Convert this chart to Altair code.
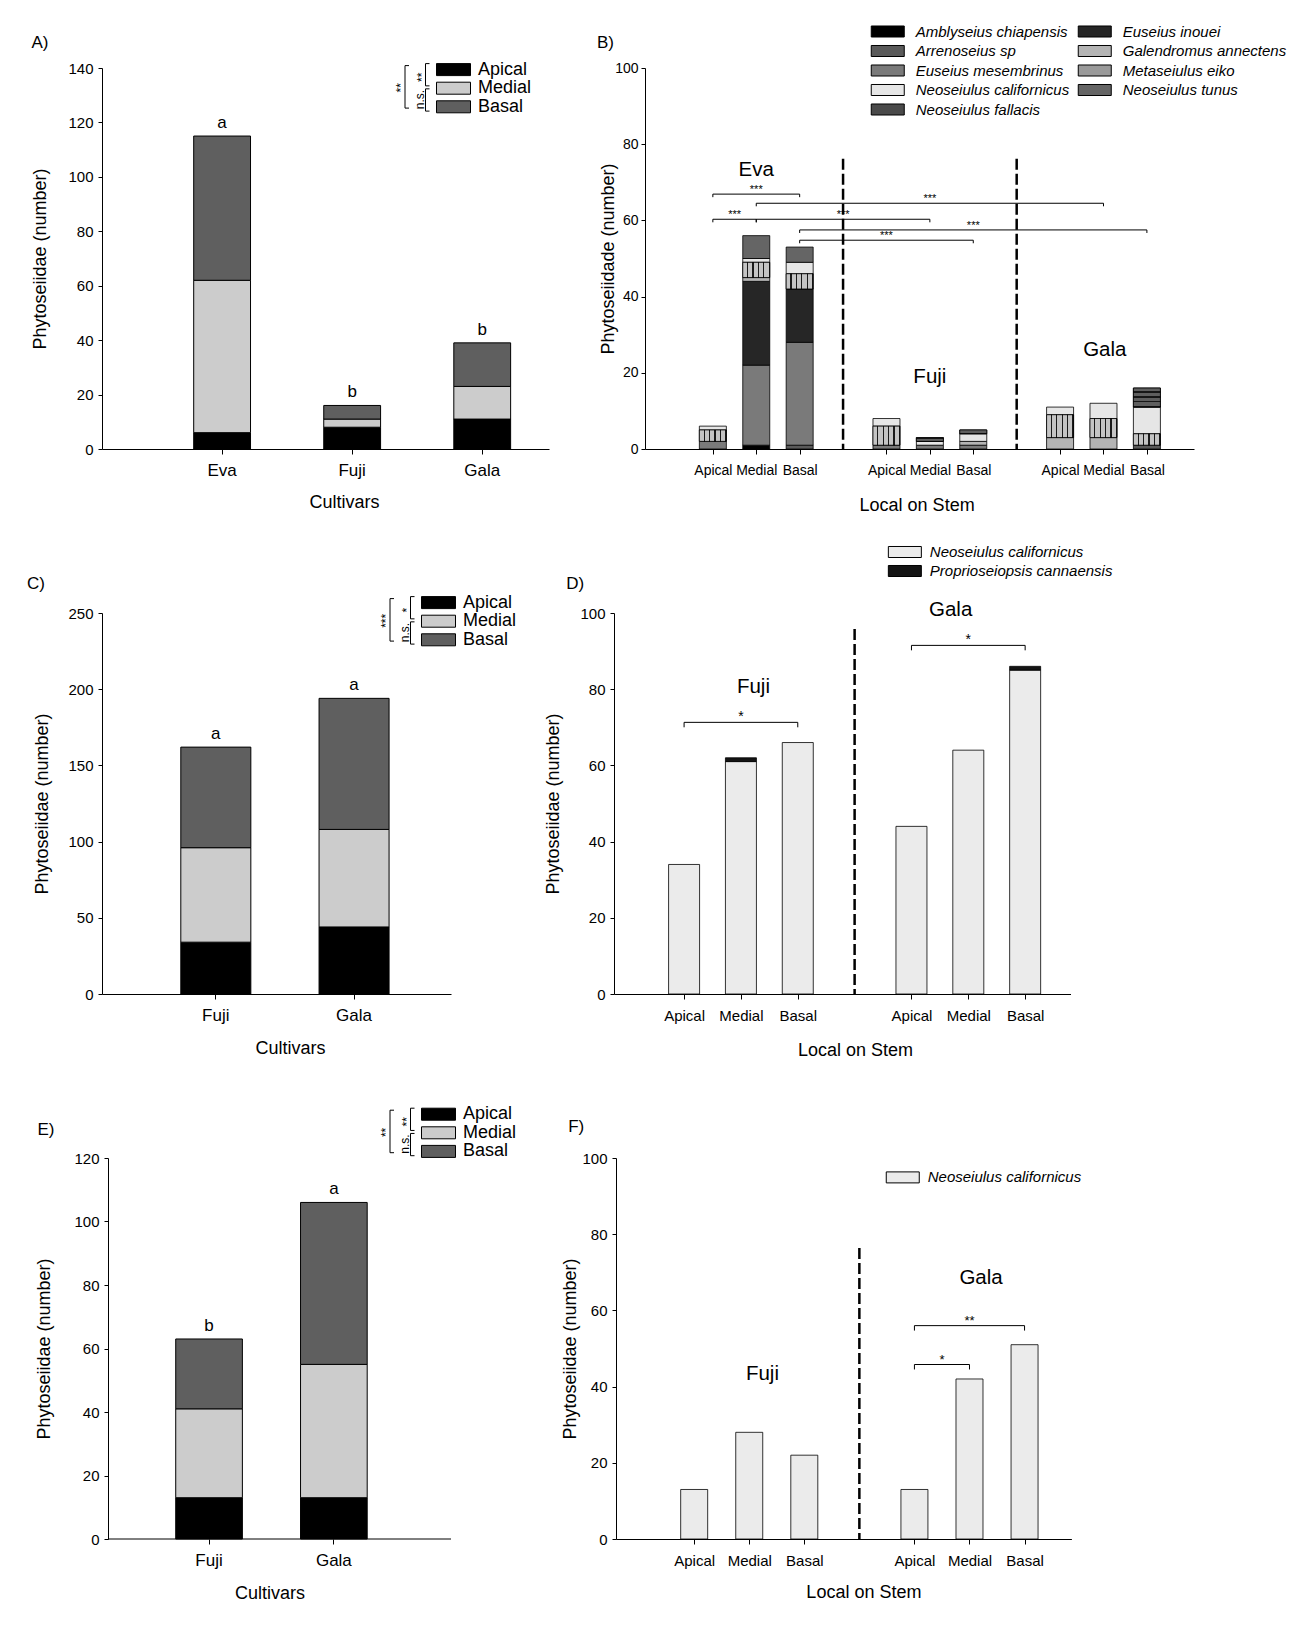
import json
import altair as alt
import pandas as pd

FONT = "Liberation Sans"
NB = "\u00a0"

# ------------------------------------------------------------------ data
positions = ["Apical", "Medial", "Basal"]
position_colors = ["#000000", "#cccccc", "#5f5f5f"]

# Panel A (all species, three cultivars)
cultivars_A = ["Eva", "Fuji", "Gala"]
A_apical = [6, 8, 11]
A_medial = [56, 3, 12]
A_basal = [53, 5, 16]
A_letters = ["a", "b", "b"]

# Panel C
cultivars_C = ["Fuji", "Gala"]
C_apical = [34, 44]
C_medial = [62, 64]
C_basal = [66, 86]
C_letters = ["a", "a"]

# Panel E
cultivars_E = ["Fuji", "Gala"]
E_apical = [13, 13]
E_medial = [28, 42]
E_basal = [22, 51]
E_letters = ["b", "a"]

# Panel B: species per cultivar x stem position
# value order: Eva A,M,B | Fuji A,M,B | Gala A,M,B
B_cultivars = ["Eva", "Fuji", "Gala"]
amblyseius_chiapensis = [0, 1, 0, 0, 0, 0, 0, 0, 0]
arrenoseius_sp = [0, 0, 1, 0, 0, 0, 0, 0, 1]
euseius_mesembrinus = [2, 21, 27, 1, 1, 1, 0, 0, 0]
euseius_inouei = [0, 22, 14, 0, 0, 0, 0, 0, 0]
galendromus_annectens = [0, 1, 0, 0, 0, 1, 3, 3, 0]
metaseiulus_eiko = [3, 4, 4, 5, 0, 0, 6, 5, 3]
neoseiulus_californicus_B = [1, 1, 3, 2, 1, 2, 2, 4, 7]
neoseiulus_fallacis = [0, 0, 0, 0, 1, 1, 0, 0, 5]
neoseiulus_tunus = [0, 6, 4, 0, 0, 0, 0, 0, 0]

species_B_stack = ["Amblyseius chiapensis", "Arrenoseius sp", "Euseius mesembrinus",
                   "Euseius inouei", "Galendromus annectens", "Metaseiulus eiko",
                   "Neoseiulus californicus", "Neoseiulus fallacis", "Neoseiulus tunus"]
species_B_values = [amblyseius_chiapensis, arrenoseius_sp, euseius_mesembrinus,
                    euseius_inouei, galendromus_annectens, metaseiulus_eiko,
                    neoseiulus_californicus_B, neoseiulus_fallacis, neoseiulus_tunus]
species_B_legend = ["Amblyseius chiapensis", "Arrenoseius sp", "Euseius mesembrinus",
                    "Neoseiulus californicus", "Neoseiulus fallacis", "Euseius inouei",
                    "Galendromus annectens", "Metaseiulus eiko", "Neoseiulus tunus"]
species_B_colors = ["#000000", "#5a5a5a", "#7a7a7a", "#e6e6e6", "#4a4a4a",
                    "#262626", "#b4b4b4", "#9a9a9a", "#656565"]

B_sig_from = [("Eva", "Apical"), ("Eva", "Apical"), ("Eva", "Medial"),
              ("Eva", "Medial"), ("Eva", "Basal"), ("Eva", "Basal")]
B_sig_to = [("Eva", "Basal"), ("Eva", "Medial"), ("Gala", "Medial"),
            ("Fuji", "Medial"), ("Gala", "Basal"), ("Fuji", "Basal")]
B_sig_level = [66.9, 60.3, 64.5, 60.3, 57.5, 54.8]
B_sig_text = ["***", "***", "***", "***", "***", "***"]
B_group_x = [2.0, 6.0, 10.03]
B_group_y = [73.2, 19.0, 26.0]
B_sep_top = 76.2

# Panel D
D_cultivars = ["Fuji", "Gala"]
species_D = ["Neoseiulus californicus", "Proprioseiopsis cannaensis"]
D_neoseiulus_californicus = [34, 61, 66, 44, 64, 85]
D_proprioseiopsis_cannaensis = [0, 1, 0, 0, 0, 1]
species_D_colors = ["#ebebeb", "#141414"]
D_sig_from = [("Fuji", "Apical"), ("Gala", "Apical")]
D_sig_to = [("Fuji", "Basal"), ("Gala", "Basal")]
D_sig_level = [71.3, 91.5]
D_sig_text = ["*", "*"]
D_group_x = [2.22, 5.69]
D_group_y = [80.7, 100.8]
D_sep_top = 95.8

# Panel F
F_cultivars = ["Fuji", "Gala"]
species_F = ["Neoseiulus californicus"]
F_neoseiulus_californicus = [13, 28, 22, 13, 42, 51]
species_F_colors = ["#ebebeb"]
F_sig_from = [("Gala", "Apical"), ("Gala", "Apical")]
F_sig_to = [("Gala", "Basal"), ("Gala", "Medial")]
F_sig_level = [56.0, 45.8]
F_sig_text = ["**", "*"]
F_group_x = [2.24, 6.21]
F_group_y = [43.3, 68.6]
F_sep_top = 76.4

# ------------------------------------------------------------------ helpers
ONE = pd.DataFrame({"k": [0]})


def rect_path(ratio):
    # wide rectangle, half width 2 in symbol units
    return f"M-2,-{ratio}H2V{ratio}H-2Z"


def stripes(light, dark, n, frac, vertical):
    stops = []
    for i in range(n):
        a, b, c = i / n, (i + frac) / n, (i + 1) / n
        stops += [alt.GradientStop(color=light, offset=a), alt.GradientStop(color=light, offset=b),
                  alt.GradientStop(color=dark, offset=b), alt.GradientStop(color=dark, offset=c)]
    if vertical:
        return alt.LinearGradient(gradient="linear", stops=stops, x1=0, x2=1, y1=0, y2=0)
    return alt.LinearGradient(gradient="linear", stops=stops, x1=0, x2=0, y1=0, y2=1)


B_textures = {
    "Metaseiulus eiko": stripes("#c4c4c4", "#1a1a1a", 5, 0.78, True),
    "Neoseiulus fallacis": stripes("#5e5e5e", "#161616", 4, 0.7, False),
}


def px_rule(x1, y1, x2, y2, color="black", width=1):
    return alt.Chart(ONE).mark_rule(color=color, strokeWidth=width).encode(
        x=alt.value(x1), x2=alt.value(x2), y=alt.value(y1), y2=alt.value(y2))


def px_text(txt, x, y, size, angle=0, align="center", baseline="middle"):
    return alt.Chart(ONE).mark_text(text=txt, fontSize=size, angle=angle, align=align,
                                    baseline=baseline, font=FONT, color="black").encode(
        x=alt.value(x), y=alt.value(y))


def anchors(w, h, pads):
    lp, tp, rp, bp = pads
    return [px_rule(-lp, -tp, -lp + 0.5, -tp, color="white"),
            px_rule(w + rp - 0.5, h + bp, w + rp, h + bp, color="white")]


def sq_bracket(x, y1, y2, arm=4):
    return [px_rule(x, y1, x, y2), px_rule(x, y1, x + arm, y1), px_rule(x, y2, x + arm, y2)]


def legend_brackets(L, r1, rs, outer, inner_top, inner_bottom):
    r2, r3 = r1 + rs, r1 + 2 * rs
    xo, xi = L - 31, L - 10.5
    layers = []
    layers += sq_bracket(xo, r1 - 3, r3 + 1)
    layers += sq_bracket(xi, r1 - 5, r2 - 2)
    layers += sq_bracket(xi, r2 + 1, r3 + 4)
    layers.append(px_text(outer, xo - 4, (r1 + r3) / 2, 12, angle=270))
    layers.append(px_text(inner_top, xi - 4, (r1 + r2) / 2 - 1, 12, angle=270))
    layers.append(px_text(inner_bottom, xi - 6, (r2 + r3) / 2 + 2, 12, angle=270))
    return layers


def left_axis(title, title_x, h, values, label_size=15, label_pad=5, offset=0):
    return alt.Axis(title=title, values=values, titleX=title_x, titleY=h / 2, titleAngle=270,
                    titleAlign="center", titleBaseline="middle", titleFontSize=18,
                    labelFontSize=label_size, tickSize=4, labelPadding=label_pad, grid=False,
                    offset=offset)


def stacked_panel(cultivars, series, letters, ymax, ystep, w, h, scale_kw, L, r1, rs,
                  sig_labels, panel_letter, letter_xy, ytitle_x, xtitle_x, xtitle_y, pads,
                  y_shift=0):
    rows = []
    for r, (pos, vals) in enumerate(zip(positions, series)):
        for c, v in zip(cultivars, vals):
            rows.append({"cultivar": c, "position": pos, "count": v, "rank": r})
    df = pd.DataFrame(rows)
    tot = pd.DataFrame({"cultivar": cultivars,
                        "total": [sum(v) for v in zip(*series)],
                        "letter": letters})
    xs = alt.Scale(domain=cultivars, **scale_kw)
    ys = alt.Scale(domain=[0, ymax], nice=False)
    xaxis = alt.Axis(title="Cultivars", labelAngle=0, labelFontSize=17, labelBaseline="middle",
                     labelPadding=16, tickSize=5, titleFontSize=18, titleX=xtitle_x,
                     titleY=xtitle_y, titleBaseline="middle", labelOverlap=False, grid=False,
                     domain=(y_shift == 0))
    X = alt.X("cultivar:N", scale=xs, sort=cultivars, axis=xaxis)
    yaxis = left_axis("Phytoseiidae (number)", ytitle_x, h, list(range(0, ymax + 1, ystep)),
                      offset=-y_shift)
    legend = alt.Legend(title=None, orient="none", legendX=L, legendY=r1 - 8,
                        symbolType=rect_path(0.706), symbolSize=17 * 17, symbolOffset=8.5,
                        symbolStrokeColor="black", symbolStrokeWidth=1,
                        labelFontSize=18, labelOffset=15.5, rowPadding=0.6, padding=0)
    bars = alt.Chart(df).mark_bar(stroke="black", strokeWidth=1).encode(
        x=X,
        y=alt.Y("count:Q", stack="zero", scale=ys, axis=yaxis),
        color=alt.Color("position:N", scale=alt.Scale(domain=positions, range=position_colors),
                        legend=legend),
        order=alt.Order("rank:Q", sort="ascending"),
    )
    letters_layer = alt.Chart(tot).mark_text(fontSize=17, baseline="alphabetic", dy=-8,
                                             color="black").encode(
        x=X, y=alt.Y("total:Q", scale=ys), text="letter:N")
    layers = [bars, letters_layer]
    if y_shift:
        # x baseline starts at the (shifted) y axis
        layers.append(px_rule(y_shift, h, w, h))
    layers += legend_brackets(L, r1, rs, *sig_labels)
    layers.append(px_text(panel_letter, letter_xy[0], letter_xy[1], 17, align="left"))
    layers += anchors(w, h, pads)
    return alt.layer(*layers).properties(width=w, height=h)


def slot_of(cultivars, cult, pos):
    return cultivars.index(cult) * 4 + positions.index(pos) + 1


def species_panel(cultivars, species, values, colors, legend_order, w, h, domain, bar_w,
                  legend_kw, sig_from, sig_to, sig_level, sig_text, star_size, drop,
                  group_x, group_y, sep_top, panel_letter, letter_xy, ytitle, ytitle_x,
                  xtitle_x, xtitle_y, stack_order, pads, textures=None, ylab=(15, 5),
                  xlab_size=15, spread=0, label_offset=16):
    rows = []
    for s, vals in zip(species, values):
        for i, v in enumerate(vals):
            g, p = divmod(i, 3)
            if v > 0:
                rows.append({"species": s, "slot": g * 4 + p + 1, "count": v,
                             "rank": stack_order.index(s)})
    df = pd.DataFrame(rows)
    nslots = len(cultivars) * 4 - 1
    labels = [""] * (nslots + 2)
    ticks = []
    for g in range(len(cultivars)):
        for p, pos in enumerate(positions):
            txt = pos
            if spread and p == 0:
                txt = pos + NB * spread
            elif spread and p == 2:
                txt = NB * spread + pos
            labels[g * 4 + p + 1] = txt
            ticks.append(g * 4 + p + 1)
    xs = alt.Scale(domain=domain, nice=False, zero=False)
    ys = alt.Scale(domain=[0, 100], nice=False)
    xaxis = alt.Axis(title="Local on Stem", values=ticks,
                     labelExpr=f"{json.dumps(labels)}[datum.value]",
                     labelFontSize=xlab_size, labelBaseline="middle", labelPadding=16,
                     tickSize=5, titleFontSize=18, titleX=xtitle_x, titleY=xtitle_y,
                     titleBaseline="middle", labelOverlap=False, labelFlush=False, grid=False)
    yaxis = left_axis(ytitle, ytitle_x, h, [0, 20, 40, 60, 80, 100], *ylab)

    def XQ(field):
        return alt.X(field, type="quantitative", scale=xs, axis=xaxis)

    def YQ(field, **kw):
        return alt.Y(field, type="quantitative", scale=ys, axis=yaxis, **kw)

    legend = alt.Legend(title=None, orient="none", symbolType=rect_path(0.667),
                        symbolSize=16.5 * 16.5, symbolOffset=8.25,
                        symbolStrokeColor="black", symbolStrokeWidth=1,
                        labelFontSize=15, labelFontStyle="italic", labelOffset=label_offset,
                        padding=0, labelLimit=300, **legend_kw)
    bars = alt.Chart(df).mark_bar(width=bar_w, stroke="black", strokeWidth=0.8).encode(
        x=XQ("slot"),
        y=YQ("count", stack="zero"),
        color=alt.Color("species:N", scale=alt.Scale(domain=legend_order, range=colors),
                        legend=legend),
        order=alt.Order("rank:Q", sort="ascending"),
    )
    layers = [bars]
    for sp, grad in (textures or {}).items():
        layers.append(
            alt.Chart(df)
            .transform_stack(stack="count", groupby=["slot"], as_=["y0", "y1"],
                             sort=[alt.SortField("rank", order="ascending")])
            .transform_filter(alt.datum.species == sp)
            .mark_bar(width=bar_w, fill=grad, stroke="black", strokeWidth=0.8)
            .encode(x=XQ("slot"), y=YQ("y0"), y2="y1:Q")
        )
    seps = pd.DataFrame({"slot": [g * 4 for g in range(1, len(cultivars))]})
    seps["top"] = sep_top
    sep_layer = alt.Chart(seps).mark_rule(color="black", strokeWidth=2.5,
                                          strokeDash=[11, 4]).encode(
        x=XQ("slot"), y=YQ("top"), y2=alt.datum(0))
    sig = pd.DataFrame({
        "x1": [slot_of(cultivars, *a) for a in sig_from],
        "x2": [slot_of(cultivars, *b) for b in sig_to],
        "level": sig_level, "label": sig_text})
    sig["mid"] = (sig["x1"] + sig["x2"]) / 2
    ends = sig.melt(id_vars=["level"], value_vars=["x1", "x2"], value_name="xe")
    ends["low"] = ends["level"] - drop
    line_layer = alt.Chart(sig).mark_rule(color="black", strokeWidth=1).encode(
        x=XQ("x1"), x2="x2:Q", y=YQ("level"))
    end_layer = alt.Chart(ends).mark_rule(color="black", strokeWidth=1).encode(
        x=XQ("xe"), y=YQ("level"), y2="low:Q")
    star_layer = alt.Chart(sig).mark_text(fontSize=star_size, baseline="alphabetic", dy=-1,
                                          color="black").encode(
        x=XQ("mid"), y=YQ("level"), text="label:N")
    groups = pd.DataFrame({"name": cultivars, "gx": group_x, "gy": group_y})
    group_layer = alt.Chart(groups).mark_text(fontSize=20.5, baseline="middle",
                                              color="black").encode(
        x=XQ("gx"), y=YQ("gy"), text="name:N")
    layers += [sep_layer, line_layer, end_layer, star_layer, group_layer,
               px_text(panel_letter, letter_xy[0], letter_xy[1], 17, align="left")]
    layers += anchors(w, h, pads)
    return alt.layer(*layers).properties(width=w, height=h)


# ------------------------------------------------------------------ panels
H = 381

A = stacked_panel(cultivars_A, [A_apical, A_medial, A_basal], A_letters, 140, 20, 447, H,
                  dict(paddingInner=0.563, paddingOuter=0.5, align=0.705),
                  L=334, r1=0.6, rs=19.25, sig_labels=("**", "**", "n.s."),
                  panel_letter="A)", letter_xy=(-70.5, -25.4), ytitle_x=-61.5,
                  xtitle_x=242, xtitle_y=53, pads=(93, 59, 24, 80))

C = stacked_panel(cultivars_C, [C_apical, C_medial, C_basal], C_letters, 250, 50, 349, H,
                  dict(paddingInner=0.4935, paddingOuter=0.509, align=0.56),
                  L=319, r1=-11.4, rs=19.25, sig_labels=("***", "*", "n.s."),
                  panel_letter="C)", letter_xy=(-75, -29.1), ytitle_x=-59.4,
                  xtitle_x=188, xtitle_y=54, pads=(93, 82.4, 81.5, 80))

E = stacked_panel(cultivars_E, [E_apical, E_medial, E_basal], E_letters, 120, 20, 349, H,
                  dict(paddingInner=0.466, paddingOuter=0.631, align=0.468),
                  L=319, r1=-44.8, rs=19.25, sig_labels=("**", "**", "n.s."),
                  panel_letter="E)", letter_xy=(-64.6, -28.1), ytitle_x=-63.3,
                  xtitle_x=167.4, xtitle_y=54, pads=(93, 81.7, 82.6, 80), y_shift=6)

B = species_panel(B_cultivars, species_B_stack, species_B_values, species_B_colors,
                  species_B_legend, 549, H, [-0.448, 11.97], 27,
                  dict(legendX=225.5, legendY=-45.5, columns=2, rowPadding=2.5,
                       columnPadding=6),
                  B_sig_from, B_sig_to, B_sig_level, B_sig_text, 11, 0.8,
                  B_group_x, B_group_y, B_sep_top, "B)", (-48, -25.4),
                  "Phytoseiidade (number)", -37, 271.6, 56, species_B_stack,
                  pads=(70, 59, 10, 80), textures=B_textures, ylab=(14, 3),
                  xlab_size=14, spread=3, label_offset=19)

D = species_panel(D_cultivars, species_D,
                  [D_neoseiulus_californicus, D_proprioseiopsis_cannaensis],
                  species_D_colors, species_D, 456.5, H, [-0.145, 7.71], 31,
                  dict(legendX=273.6, legendY=-70, rowPadding=2),
                  D_sig_from, D_sig_to, D_sig_level, D_sig_text, 14, 1.3,
                  D_group_x, D_group_y, D_sep_top, "D)", (-47.8, -29.1),
                  "Phytoseiidae (number)", -60.3, 241, 56, species_D,
                  pads=(80, 82.4, 10, 80))

F = species_panel(F_cultivars, species_F, [F_neoseiulus_californicus],
                  species_F_colors, species_F, 455.4, H, [-0.329, 7.76], 27,
                  dict(legendX=269.5, legendY=10.4, rowPadding=2),
                  F_sig_from, F_sig_to, F_sig_level, F_sig_text, 13, 1.3,
                  F_group_x, F_group_y, F_sep_top, "F)", (-47.8, -31.2),
                  "Phytoseiidae (number)", -45.8, 247.4, 53, species_F,
                  pads=(80, 81.7, 10, 80))

RES = dict(x="independent", y="independent", color="independent")


def hrow(a, b):
    return alt.hconcat(a, b, spacing=0).resolve_scale(**RES).resolve_legend(color="independent")


chart = (
    alt.vconcat(hrow(A, B), hrow(C, D), hrow(E, F), spacing=0)
    .resolve_scale(**RES)
    .resolve_legend(color="independent")
    .properties(padding=0, background="white")
    .configure(font=FONT)
    .configure_view(stroke=None)
    .configure_axis(domainColor="black", tickColor="black", labelColor="black",
                    titleColor="black", labelFont=FONT, titleFont=FONT,
                    titleFontWeight="normal", domainWidth=1, tickWidth=1)
    .configure_legend(labelFont=FONT, labelColor="black")
    .configure_text(font=FONT, color="black")
)

chart.save("out.html", embed_options={"renderer": "svg", "actions": False})
